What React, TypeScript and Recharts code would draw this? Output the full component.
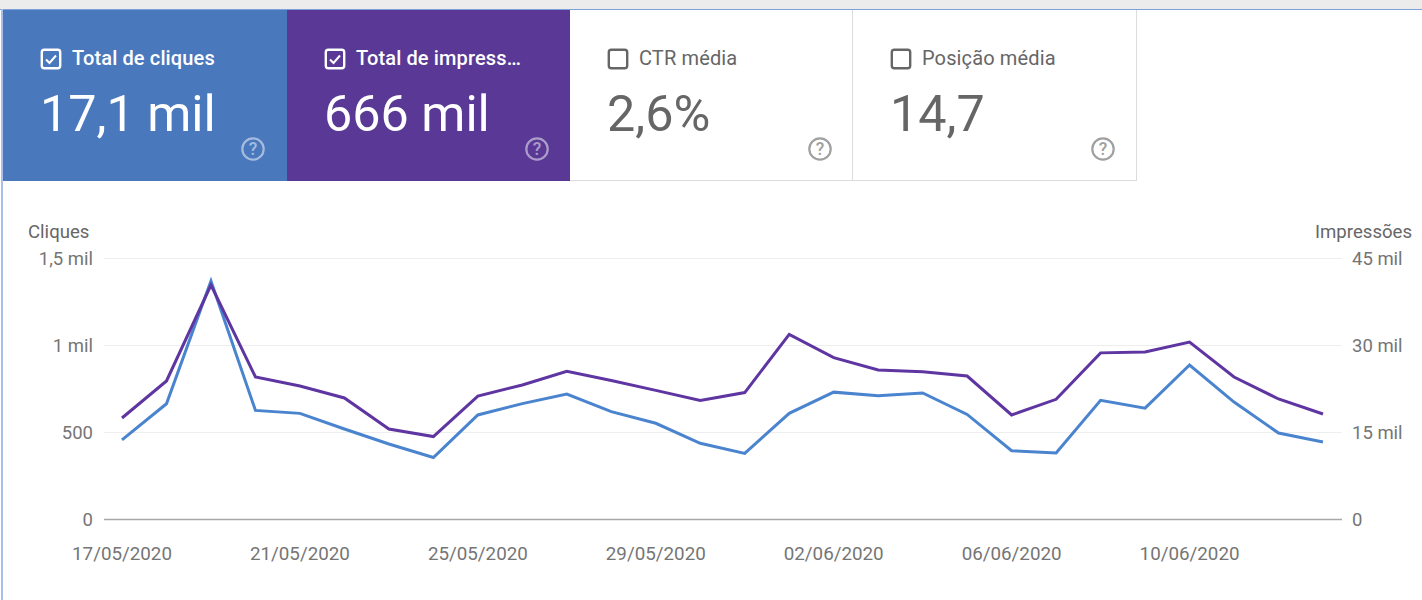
import { CartesianGrid, Line, LineChart, XAxis, YAxis } from "recharts"

const dates = [
  "17/05/2020", "18/05/2020", "19/05/2020", "20/05/2020", "21/05/2020", "22/05/2020", "23/05/2020",
  "24/05/2020", "25/05/2020", "26/05/2020", "27/05/2020", "28/05/2020", "29/05/2020", "30/05/2020",
  "31/05/2020", "01/06/2020", "02/06/2020", "03/06/2020", "04/06/2020", "05/06/2020", "06/06/2020",
  "07/06/2020", "08/06/2020", "09/06/2020", "10/06/2020", "11/06/2020", "12/06/2020", "13/06/2020",
]
const clicks = [
  458, 665, 1371, 627, 610, 520, 434, 356, 601, 666, 721, 620, 553, 438, 380, 610, 732, 711, 727, 604, 395, 382, 685,
  640, 888, 675, 497, 445,
]
const impressions = [
  17500, 23880, 40430, 24570, 23020, 20950, 15600, 14300, 21290, 23190, 25540, 23980, 22260, 20540, 21880, 31930, 27900,
  25770, 25480, 24740, 18020, 20720, 28730, 28900, 30600, 24570, 20780, 18190,
]
const clickTicks = [0, 500, 1000, 1500]
const impressionTicks = [0, 15000, 30000, 45000]

const chartData = dates.map((date, i) => ({ date, clicks: clicks[i], impressions: impressions[i] }))

const FONT = "Roboto, sans-serif"

function fmtMil(v: number) {
  if (v === 0) return "0"
  if (v < 1000) return String(v)
  return `${String(v / 1000).replace(".", ",")} mil`
}

function CheckBox({ checked, color }: { checked: boolean; color: string }) {
  return (
    <svg width="22" height="22" viewBox="0 0 22 22" style={{ position: "absolute", left: 37, top: 38 }}>
      <rect x="1.8" y="1.8" width="18.4" height="18.4" rx="2.5" fill="none" stroke={color} strokeWidth="2.4" />
      {checked && <path d="M6 11.5 L9.5 15 L16 7.5" fill="none" stroke={color} strokeWidth="2" />}
    </svg>
  )
}

function HelpIcon({ color }: { color: string }) {
  return (
    <svg width="26" height="26" viewBox="0 0 26 26" style={{ position: "absolute", left: 237, top: 126 }}>
      <circle cx="13" cy="13" r="10.7" fill="none" stroke={color} strokeWidth="2.2" />
      <text x="13" y="19" textAnchor="middle" fontSize="17.5" fontWeight="500" fontFamily={FONT} fill={color}>
        ?
      </text>
    </svg>
  )
}

interface CardProps {
  left: number
  width: number
  title: string
  value: string
  bg: string
  fg: string
  help: string
  checked: boolean
}

function Card({ left, width, title, value, bg, fg, help, checked }: CardProps) {
  return (
    <div
      style={{
        position: "absolute",
        left,
        top: 10,
        width,
        height: 171,
        background: bg,
        color: fg,
        fontFamily: FONT,
        boxSizing: "border-box",
        borderRight: checked ? "none" : "1px solid #dcdcdc",
        borderBottom: checked ? "none" : "1px solid #dcdcdc",
      }}
    >
      <CheckBox checked={checked} color={fg} />
      <div
        style={{
          position: "absolute",
          left: 69,
          top: 36,
          fontSize: 20,
          letterSpacing: 0.13,
          lineHeight: "24px",
          fontWeight: checked ? 500 : 400,
          whiteSpace: "nowrap",
        }}
      >
        {title}
      </div>
      <div style={{ position: "absolute", left: 37, top: 74, fontSize: 50.3, lineHeight: "60px", whiteSpace: "nowrap" }}>
        {value}
      </div>
      <HelpIcon color={help} />
    </div>
  )
}

export default function App() {
  return (
    <div style={{ position: "absolute", left: 0, top: 0, width: 1422, height: 600, background: "#fff", overflow: "hidden" }}>
      <div style={{ position: "absolute", left: 0, top: 0, width: 1422, height: 9, background: "#ececec" }} />
      <div style={{ position: "absolute", left: 0, top: 9, width: 1422, height: 1, background: "#7f9fd8" }} />
      <div style={{ position: "absolute", left: 1, top: 9, width: 2, height: 591, background: "#a9bfe8" }} />

      <Card left={3} width={284} title="Total de cliques" value="17,1 mil" bg="#4a78bd" fg="#fff" help="rgba(255,255,255,0.5)" checked />
      <Card left={287} width={283} title="Total de impress…" value="666 mil" bg="#593995" fg="#fff" help="rgba(255,255,255,0.5)" checked />
      <Card left={570} width={283} title="CTR média" value="2,6%" bg="#fff" fg="#666" help="#a0a0a0" checked={false} />
      <Card left={853} width={284} title="Posição média" value="14,7" bg="#fff" fg="#666" help="#a0a0a0" checked={false} />

      <div style={{ position: "absolute", left: 28, top: 222, fontFamily: FONT, fontSize: 18.6, lineHeight: "20px", color: "#666" }}>Cliques</div>
      <div style={{ position: "absolute", left: 1315, top: 222, fontFamily: FONT, fontSize: 18.6, lineHeight: "20px", color: "#666" }}>Impressões</div>

      <div style={{ position: "absolute", left: 0, top: 0 }}>
        <LineChart width={1422} height={600} data={chartData} margin={{ top: 258.5, right: 0, bottom: 20.5, left: 0 }}>
          <CartesianGrid vertical={false} stroke="#eeeeee" syncWithTicks yAxisId="left" />
          <XAxis
            dataKey="date"
            interval={3}
            height={60}
            padding={{ left: 18, right: 19 }}
            axisLine={{ stroke: "#a8a8a8", strokeWidth: 1.5 }}
            tickLine={false}
            tickMargin={21}
            tick={{ fontFamily: FONT, fontSize: 18.8, fill: "#757575" }}
          />
          <YAxis
            yAxisId="left"
            width={104}
            domain={[0, 1500]}
            ticks={clickTicks}
            tickFormatter={fmtMil}
            axisLine={false}
            tickLine={false}
            tickMargin={5}
            tick={{ fontFamily: FONT, fontSize: 18.5, fill: "#757575" }}
          />
          <YAxis
            yAxisId="right"
            orientation="right"
            width={80}
            domain={[0, 45000]}
            ticks={impressionTicks}
            tickFormatter={fmtMil}
            axisLine={false}
            tickLine={false}
            tickMargin={4}
            tick={{ fontFamily: FONT, fontSize: 18.5, fill: "#757575" }}
          />
          <Line yAxisId="left" type="linear" dataKey="clicks" stroke="#4a84cf" strokeWidth={3} dot={false} isAnimationActive={false} />
          <Line yAxisId="right" type="linear" dataKey="impressions" stroke="#5e35a1" strokeWidth={3} dot={false} isAnimationActive={false} />
        </LineChart>
      </div>
    </div>
  )
}
